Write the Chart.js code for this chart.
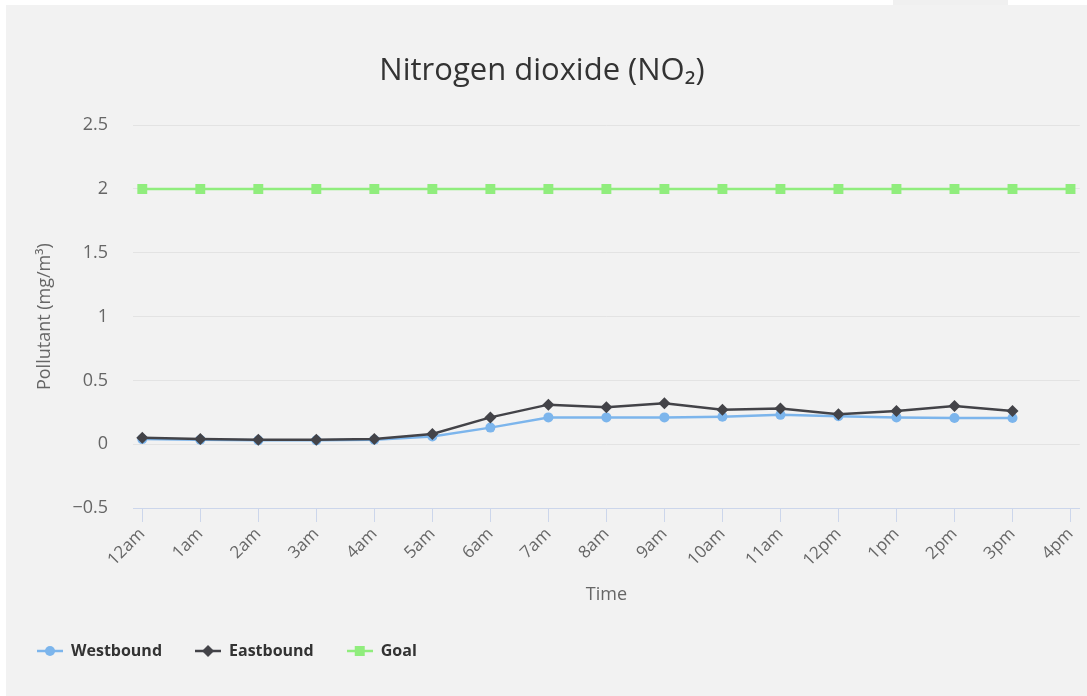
<!DOCTYPE html>
<html>
<head>
<meta charset="utf-8">
<script src="https://cdn.jsdelivr.net/npm/chart.js@4.4.1/dist/chart.umd.min.js"></script>
<style>
  html, body { margin: 0; padding: 0; background: #fff; }
  #wrap { position: relative; width: 1087px; height: 696px; overflow: hidden; }
  #panel { position: absolute; left: 6px; top: 5px; right: 0; bottom: 0; background: #f2f2f2; }
  #tab { position: absolute; left: 893px; top: 0; width: 115px; height: 5px; background: #f0f0f0; }
  #chart { position: absolute; left: 0; top: 0; }
</style>
</head>
<body>
<div id="wrap">
  <div id="panel"></div>
  <div id="tab"></div>
  <canvas id="chart" width="1087" height="696"></canvas>
</div>
<script>
const timeLabels = ["12am", "1am", "2am", "3am", "4am", "5am", "6am", "7am", "8am",
  "9am", "10am", "11am", "12pm", "1pm", "2pm", "3pm", "4pm"];
const westbound = [0.04, 0.035, 0.03, 0.03, 0.035, 0.06, 0.13, 0.21, 0.21, 0.21, 0.215, 0.23, 0.22, 0.21, 0.205, 0.205, null];
const eastbound = [0.05, 0.04, 0.035, 0.035, 0.04, 0.08, 0.21, 0.31, 0.29, 0.32, 0.27, 0.28, 0.235, 0.26, 0.30, 0.26, null];
const goal = [2, 2, 2, 2, 2, 2, 2, 2, 2, 2, 2, 2, 2, 2, 2, 2, 2];
const yTicks = [-0.5, 0, 0.5, 1, 1.5, 2, 2.5];

const FONT = "'Open Sans', 'Noto Sans', sans-serif";

function toPoints(arr) {
  return arr.map((v, i) => ({ x: i, y: v }));
}

// small line + marker icon for the legend
function legendIcon(color, shape) {
  const c = document.createElement("canvas");
  c.width = 26; c.height = 14;
  const g = c.getContext("2d");
  g.strokeStyle = color; g.fillStyle = color; g.lineWidth = 2.5;
  g.beginPath(); g.moveTo(0, 7); g.lineTo(26, 7); g.stroke();
  g.beginPath();
  if (shape === "circle") g.arc(13, 7, 5, 0, Math.PI * 2);
  if (shape === "diamond") { g.moveTo(13, 1); g.lineTo(19, 7); g.lineTo(13, 13); g.lineTo(7, 7); g.closePath(); }
  if (shape === "square") g.rect(8, 2, 10, 10);
  g.fill();
  return c;
}

const icons = [
  legendIcon("#7cb5ec", "circle"),
  legendIcon("#434348", "diamond"),
  legendIcon("#90ed7d", "square")
];

new Chart(document.getElementById("chart"), {
  type: "line",
  data: {
    datasets: [
      { label: "Westbound", data: toPoints(westbound), borderColor: "#7cb5ec", backgroundColor: "#7cb5ec",
        pointStyle: "circle", pointRadius: 5, order: 3 },
      { label: "Eastbound", data: toPoints(eastbound), borderColor: "#434348", backgroundColor: "#434348",
        pointStyle: "rectRot", pointRadius: 6, order: 2 },
      { label: "Goal", data: toPoints(goal), borderColor: "#90ed7d", backgroundColor: "#90ed7d",
        pointStyle: "rect", pointRadius: 7, order: 1 }
    ]
  },
  options: {
    responsive: false,
    animation: false,
    layout: { padding: { left: 4, right: 7, top: 0, bottom: 27 } },
    elements: {
      line: { borderWidth: 2.5, tension: 0 },
      point: { borderWidth: 0, hoverRadius: 6 }
    },
    plugins: {
      tooltip: { enabled: false },
      title: {
        display: true,
        text: "Nitrogen dioxide (NO₂)",
        color: "#333333",
        font: { family: FONT, size: 31, weight: "normal" },
        padding: { top: 53, bottom: 35 }
      },
      legend: {
        position: "bottom",
        align: "start",
        labels: {
          usePointStyle: true,
          pointStyleWidth: 26,
          padding: 33,
          color: "#333333",
          font: { family: FONT, size: 16, weight: "bold" },
          sort: (a, b) => a.datasetIndex - b.datasetIndex,
          generateLabels(chart) {
            const items = Chart.defaults.plugins.legend.labels.generateLabels(chart);
            items.forEach(it => { it.pointStyle = icons[it.datasetIndex]; });
            return items;
          }
        }
      }
    },
    scales: {
      x: {
        type: "linear",
        min: -0.16,
        max: 16.16,
        afterBuildTicks(scale) { scale.ticks = timeLabels.map((_, i) => ({ value: i })); },
        afterFit(scale) { scale.height = 102; },
        ticks: {
          autoSkip: false,
          minRotation: 45,
          maxRotation: 45,
          padding: 2,
          color: "#666666",
          font: { family: FONT, size: 17 },
          callback: (v) => timeLabels[v]
        },
        grid: { drawOnChartArea: false, drawTicks: true, tickLength: 14, color: "#ccd6eb" },
        border: { display: true, color: "#ccd6eb" },
        title: {
          display: true, text: "Time", color: "#666666",
          font: { family: FONT, size: 18 },
          padding: { top: 0, bottom: 4 }
        }
      },
      y: {
        min: -0.5,
        max: 2.5,
        afterBuildTicks(scale) { scale.ticks = yTicks.map(v => ({ value: v })); },
        afterFit(scale) { scale.width = 129; },
        ticks: {
          padding: 25,
          color: "#666666",
          font: { family: FONT, size: 18 },
          callback: (v) => (v < 0 ? "\u2212" + Math.abs(v) : String(v))
        },
        grid: { color: "#e3e3e3", drawTicks: false },
        border: { display: false },
        title: {
          display: true, text: "Pollutant (mg/m³)", color: "#666666",
          font: { family: FONT, size: 18 },
          padding: { top: 30, bottom: 0 }
        }
      }
    }
  }
});
</script>
</body>
</html>
